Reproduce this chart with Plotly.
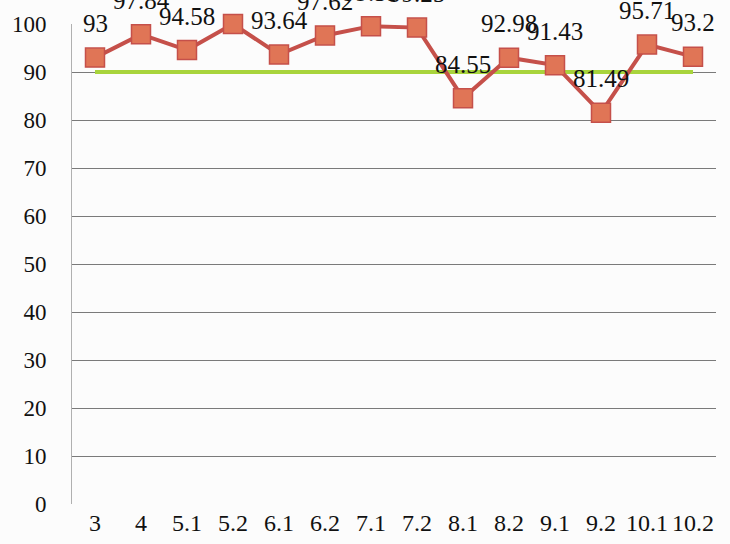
import plotly.graph_objects as go

categories = ["3", "4", "5.1", "5.2", "6.1", "6.2", "7.1", "7.2", "8.1", "8.2", "9.1", "9.2", "10.1", "10.2"]
values = [93, 97.84, 94.58, 100, 93.64, 97.62, 99.55, 99.25, 84.55, 92.98, 91.43, 81.49, 95.71, 93.2]
target = [90] * len(categories)
y_ticks = [0, 10, 20, 30, 40, 50, 60, 70, 80, 90, 100]

serif = "Times New Roman, Tinos, Liberation Serif, DejaVu Serif, serif"

fig = go.Figure()
fig.add_trace(go.Scatter(
    x=categories, y=target, mode="lines",
    line=dict(color="#a8d43c", width=4), hoverinfo="skip", showlegend=False,
))
fig.add_trace(go.Scatter(
    x=categories, y=values, mode="lines+markers",
    line=dict(color="#c5504a", width=4),
    marker=dict(symbol="square", size=19, color="#e07556", line=dict(color="#c5504a", width=1.5)),
    showlegend=False, cliponaxis=False,
))

annotations = [
    dict(x=i, y=v, xref="x", yref="y", text=f"{v:g}", showarrow=False, yshift=34,
         font=dict(family=serif, size=25, color="#111"))
    for i, v in enumerate(values)
]

fig.update_layout(
    width=730, height=544,
    margin=dict(l=72, r=14, t=24, b=40, autoexpand=False),
    paper_bgcolor="#fcfcfc", plot_bgcolor="#fcfcfc",
    font=dict(family=serif),
    annotations=annotations,
    xaxis=dict(
        type="category", showgrid=False, showline=False, ticks="", automargin=False,
        tickfont=dict(family=serif, size=24, color="#111"), ticklabelstandoff=2,
        range=[-0.5, len(categories) - 0.5],
    ),
    yaxis=dict(
        range=[0, 100], tickvals=y_ticks, showgrid=True, gridcolor="#7a7a7a", gridwidth=1,
        showline=True, linecolor="#b0b0b0", linewidth=1, zeroline=False, ticks="", automargin=False,
        tickfont=dict(family=serif, size=23, color="#111"), ticklabelstandoff=20,
    ),
)

fig.write_html("out.html", post_script="document.body.style.margin='0';",
               config={"displayModeBar": False})
